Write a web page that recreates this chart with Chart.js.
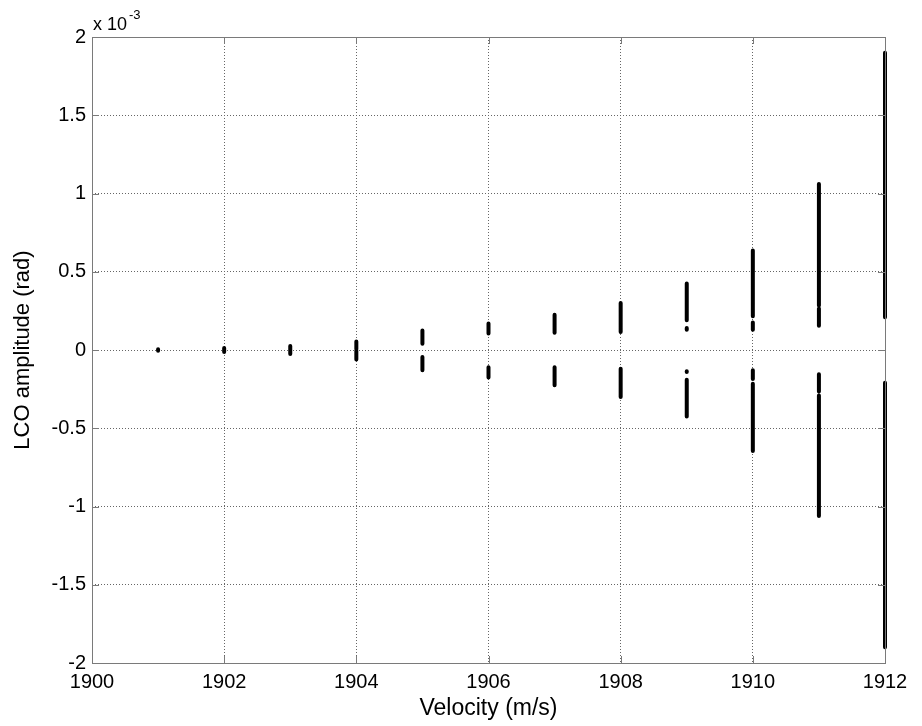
<!DOCTYPE html>
<html>
<head>
<meta charset="utf-8">
<script src="https://cdn.jsdelivr.net/npm/chart.js@4"></script>
<style>
  html, body { margin: 0; padding: 0; background: #fff; }
  #wrap { width: 922px; height: 726px; }
</style>
</head>
<body>
<div id="wrap"><canvas id="lcoChart" width="922" height="726"></canvas></div>
<script>
// velocities (m/s) and LCO amplitude branches (x 1e-3 rad), each a list of [low, high] segments
const velocities = [1901, 1902, 1903, 1904, 1905, 1906, 1907, 1908, 1909, 1910, 1911, 1912];
const branches = [
  [[-0.004, 0.004]],
  [[-0.012, 0.012]],
  [[-0.025, 0.025]],
  [[0.005, 0.055], [-0.06, -0.005]],
  [[0.04, 0.125], [-0.045, -0.13]],
  [[0.105, 0.17], [-0.11, -0.175]],
  [[0.11, 0.225], [-0.11, -0.225]],
  [[0.115, 0.30], [-0.12, -0.30]],
  [[0.19, 0.425], [0.13, 0.14], [-0.135, -0.14], [-0.19, -0.425]],
  [[0.215, 0.635], [0.13, 0.175], [-0.13, -0.185], [-0.215, -0.645]],
  [[0.285, 1.06], [0.155, 0.265], [-0.155, -0.265], [-0.29, -1.06]],
  [[0.40, 1.9], [0.21, 0.40], [-0.21, -0.40], [-0.40, -1.9]]
];
const xTicks = [1900, 1902, 1904, 1906, 1908, 1910, 1912];
const yTicks = [2, 1.5, 1, 0.5, 0, -0.5, -1, -1.5, -2];

// build one line dataset, segments split by null points
const points = [];
velocities.forEach((v, i) => {
  branches[i].forEach(seg => {
    points.push({x: v, y: seg[0]});
    points.push({x: v, y: seg[1]});
    points.push({x: v, y: null});
  });
});

const FONT = 'Liberation Sans, Arial, sans-serif';

// frame, inward ticks and the exponent label
const matlabAxes = {
  id: 'matlabAxes',
  afterDatasetsDraw(chart) {
    const {ctx, chartArea: a, scales: {x, y}} = chart;
    ctx.save();
    ctx.strokeStyle = '#7a7a7a';
    ctx.lineWidth = 1;
    ctx.beginPath();
    xTicks.forEach(t => {
      const px = Math.round(x.getPixelForValue(t)) + 0.5;
      ctx.moveTo(px, a.bottom); ctx.lineTo(px, a.bottom - 7);
      ctx.moveTo(px, a.top); ctx.lineTo(px, a.top + 7);
    });
    yTicks.forEach(t => {
      const py = Math.round(y.getPixelForValue(t)) + 0.5;
      ctx.moveTo(a.left, py); ctx.lineTo(a.left + 7, py);
      ctx.moveTo(a.right, py); ctx.lineTo(a.right - 7, py);
    });
    ctx.stroke();
    ctx.strokeRect(Math.round(a.left) + 0.5, Math.round(a.top) + 0.5,
                   Math.round(a.right - a.left), Math.round(a.bottom - a.top));
    ctx.fillStyle = '#000';
    ctx.font = '18px ' + FONT;
    ctx.textBaseline = 'alphabetic';
    ctx.fillText('x 10', a.left + 1, a.top - 7);
    ctx.font = '13px ' + FONT;
    ctx.fillText('-3', a.left + 37, a.top - 18);
    ctx.restore();
  }
};

new Chart(document.getElementById('lcoChart'), {
  type: 'line',
  data: {
    datasets: [{
      data: points,
      borderColor: '#000',
      borderWidth: 4,
      borderCapStyle: 'round',
      pointRadius: 0,
      spanGaps: false,
      tension: 0,
      clip: false
    }]
  },
  options: {
    responsive: false,
    animation: false,
    layout: { padding: { top: 37, right: 37, left: 0, bottom: 0 } },
    plugins: { legend: { display: false }, tooltip: { enabled: false } },
    scales: {
      x: {
        type: 'linear',
        min: 1900, max: 1912,
        afterBuildTicks: s => { s.ticks = xTicks.map(v => ({value: v})); },
        afterFit: s => { s.height = 63; },
        grid: { color: '#666', drawTicks: false },
        border: { display: false, dash: [1, 2] },
        ticks: { color: '#000', font: { family: FONT, size: 20 }, padding: 7,
                 callback: v => String(v), maxRotation: 0 },
        title: { display: true, text: 'Velocity (m/s)', color: '#000',
                 font: { family: FONT, size: 23 }, padding: { top: 0 } }
      },
      y: {
        min: -2, max: 2,
        afterBuildTicks: s => { s.ticks = yTicks.map(v => ({value: v})); },
        afterFit: s => { s.width = 92; },
        grid: { color: '#666', drawTicks: false },
        border: { display: false, dash: [1, 2] },
        ticks: { color: '#000', font: { family: FONT, size: 20 }, padding: 6,
                 callback: v => String(v) },
        title: { display: true, text: 'LCO amplitude (rad)', color: '#000',
                 font: { family: FONT, size: 22 }, padding: { top: 10 } }
      }
    }
  },
  plugins: [matlabAxes]
});
</script>
</body>
</html>
